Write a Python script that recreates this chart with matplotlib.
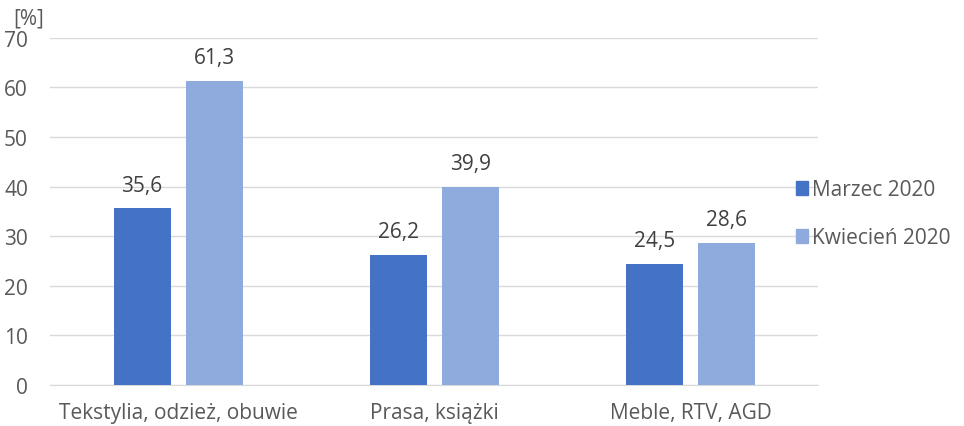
import numpy as np
import matplotlib.pyplot as plt
from matplotlib.patches import Patch

categories = ["Tekstylia, odzież, obuwie", "Prasa, książki", "Meble, RTV, AGD"]
marzec = [35.6, 26.2, 24.5]
kwiecien = [61.3, 39.9, 28.6]
series_names = ["Marzec 2020", "Kwiecień 2020"]

plt.rcParams["font.family"] = ["Open Sans", "DejaVu Sans"]
text_color = "#595959"
c1, c2 = "#4472C4", "#8FAADC"
fs = 15

fig = plt.figure(figsize=(9.64, 4.27), dpi=100)
ax = fig.add_axes([0.052, 0.096, 0.797, 0.813])

x = np.arange(len(categories))
w = 0.223
off = 0.141
b1 = ax.bar(x - off, marzec, w, color=c1, zorder=3)
b2 = ax.bar(x + off, kwiecien, w, color=c2, zorder=3)

# value labels above bars, decimal comma
for bars, vals in ((b1, marzec), (b2, kwiecien)):
    for b, v in zip(bars, vals):
        ax.text(b.get_x() + b.get_width() / 2, v + 2.6, f"{v:.1f}".replace(".", ","),
                ha="center", va="bottom", fontsize=fs, color="#404040")

ax.set_xlim(-0.5, 2.5)
ax.set_ylim(0, 70)
ax.set_yticks(range(0, 71, 10))
ax.set_xticks(x)
ax.set_xticklabels(categories)
ax.tick_params(axis="both", length=0, labelsize=fs, colors=text_color)
ax.tick_params(axis="x", pad=12)
ax.tick_params(axis="y", pad=16)
ax.grid(axis="y", color="#D9D9D9", linewidth=1, zorder=0)
for s in ["top", "right", "left"]:
    ax.spines[s].set_visible(False)
ax.spines["bottom"].set_color("#D9D9D9")

fig.text(0.014, 0.955, "[%]", fontsize=fs, color=text_color, ha="left", va="center")

handles = [Patch(color=c1), Patch(color=c2)]
fig.legend(handles, series_names, loc="center left", bbox_to_anchor=(0.806, 0.497),
           frameon=False, fontsize=fs, labelcolor=text_color,
           handlelength=0.6, handleheight=0.6, handletextpad=0.2, labelspacing=1.3)

fig.savefig("out.png", dpi=100)
